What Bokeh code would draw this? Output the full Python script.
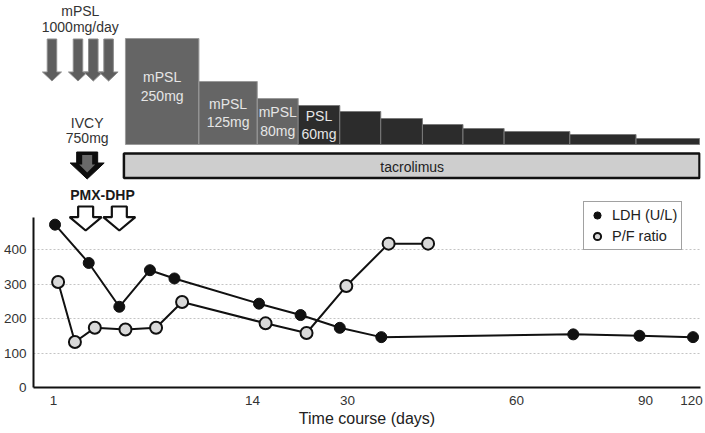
import numpy as np
from bokeh.plotting import figure
from bokeh.models import Range1d, FixedTicker, Legend, LegendItem
from bokeh.embed import file_html
from bokeh.resources import INLINE

# ---------------- data ----------------
tick_days = [1, 14, 30, 60, 90, 120]
tick_labels = ["1", "14", "30", "60", "90", "120"]

ldh_days = [1.1, 3.3, 5.3, 7.3, 8.9, 15.1, 22.1, 28.7, 36.0, 73.2, 88.6, 121.0]
ldh_vals = [472, 361, 234, 340, 316, 243, 210, 173, 146, 154, 150, 146]

pf_days = [1.3, 2.4, 3.7, 5.7, 7.7, 9.4, 16.2, 23.1, 29.8, 37.3, 44.3]
pf_vals = [306, 132, 173, 168, 173, 248, 186, 158, 294, 417, 417]

mpsl_pulse_days = [0.9, 2.6, 3.6, 4.6]
ivcy_day = 3.2
pmx_days = [3.1, 5.3]

steroid_start_days = [5.7, 10.5, 14.8, 21.7, 28.7, 35.9, 43.3, 50.5, 57.8, 72.4, 87.8]
steroid_drug = ["mPSL", "mPSL", "mPSL", "PSL", "PSL", "PSL", "PSL", "PSL", "PSL", "PSL", "PSL"]
steroid_step = [106, 63, 46, 39, 33, 26, 20, 16, 13, 10, 6]   # drawn step heights
steroid_labels = ["mPSL\n250mg", "mPSL\n125mg", "mPSL\n80mg", "PSL\n60mg",
                  "", "", "", "", "", "", ""]
tacrolimus_start_day = 5.6

# ---------------- scale (non-linear time axis) ----------------
AXIS_X = [20, 219, 314, 483, 612, 658]   # axis positions of the tick days
X_END = 667


def tx(days):
    d = np.atleast_1d(np.asarray(days, dtype=float))
    x = np.interp(d, tick_days, AXIS_X)
    lo = d < tick_days[0]
    x[lo] = AXIS_X[0] + (d[lo] - tick_days[0]) * (AXIS_X[1] - AXIS_X[0]) / (tick_days[1] - tick_days[0])
    hi = d > tick_days[-1]
    x[hi] = AXIS_X[-1] + (d[hi] - tick_days[-1]) * (AXIS_X[-1] - AXIS_X[-2]) / (tick_days[-1] - tick_days[-2])
    return x


FONT = "Liberation Sans"
FRAME_H = 387
PX_PER_UNIT = 0.345

p = figure(width=705, height=433, x_range=Range1d(0, X_END),
           y_range=Range1d(0, FRAME_H / PX_PER_UNIT),
           output_backend="svg", toolbar_location=None,
           min_border_left=33, min_border_right=5, min_border_top=0, min_border_bottom=433 - FRAME_H)
p.extra_y_ranges = {"d": Range1d(start=FRAME_H, end=0)}
p.outline_line_color = None
p.background_fill_color = "white"
p.border_fill_color = "white"

# axes
p.xaxis.ticker = FixedTicker(ticks=[int(v) for v in tx(tick_days)])
p.xaxis.major_label_overrides = {int(v): lab for v, lab in zip(tx(tick_days), tick_labels)}
p.yaxis.ticker = FixedTicker(ticks=[0, 100, 200, 300, 400])
p.yaxis.bounds = (0, 493)
for ax in (p.xaxis, p.yaxis):
    ax.axis_line_width = 2
    ax.axis_line_color = "#111111"
    ax.major_tick_line_color = None
    ax.minor_tick_line_color = None
    ax.major_tick_out = 0
    ax.major_tick_in = 0
    ax.major_label_text_font = FONT
    ax.major_label_text_font_size = "13.5px"
    ax.major_label_text_color = "#333333"
p.xaxis.major_label_standoff = 8
p.yaxis.major_label_standoff = 7
p.xaxis.axis_label = "Time course (days)"
p.xaxis.axis_label_text_font = FONT
p.xaxis.axis_label_text_font_size = "16px"
p.xaxis.axis_label_text_font_style = "normal"
p.xaxis.axis_label_text_color = "#222222"
p.xaxis.axis_label_standoff = 2

p.xgrid.visible = False
p.ygrid.grid_line_color = "#c4c4c4"
p.ygrid.grid_line_dash = "2 2"
p.ygrid.grid_line_width = 1


def down_arrow(cx, top, head_y, tip, shaft_hw, head_hw):
    xs = [cx - shaft_hw, cx + shaft_hw, cx + shaft_hw, cx + head_hw, cx, cx - head_hw, cx - shaft_hw]
    ys = [top, top, head_y, head_y, tip, head_y, head_y]
    return xs, ys


# ---------------- treatment diagram ----------------
BASE = 144
starts = tx(steroid_start_days)
rights = list(starts[1:]) + [X_END - 1]
tops = [BASE - h for h in steroid_step]
fills = ["#656565" if d == "mPSL" else "#2c2c2c" for d in steroid_drug]
edges = ["#9a9a9a" if d == "mPSL" else "#7a7a7a" for d in steroid_drug]
p.quad(left=starts, right=rights, top=tops, bottom=[BASE] * len(tops),
       fill_color=fills, line_color=edges, line_width=1, y_range_name="d")
label_x = [(a + b) / 2 for a, b in zip(starts, rights)]
label_y = [t + min(h / 2, 48) for t, h in zip(tops, steroid_step)]
p.text(x=label_x, y=label_y, text=steroid_labels, text_align="center", text_baseline="middle",
       text_color="#e6e6e6", text_font_size="14px", text_line_height=1.15,
       text_font={"value": FONT}, y_range_name="d")

# tacrolimus bar
tac_left = float(tx(tacrolimus_start_day)[0])
p.quad(left=[tac_left], right=[X_END - 1], top=[153], bottom=[177.5], fill_color="#cecece",
       line_color="#111111", line_width=2.5, y_range_name="d")
p.text(x=[(tac_left + X_END) / 2], y=[166], text=["tacrolimus"], text_align="center",
       text_baseline="middle", text_color="#222222", text_font_size="14px",
       text_font={"value": FONT}, y_range_name="d")

# mPSL pulse arrows
px = tx(mpsl_pulse_days)
axs, ays = [], []
for cx in px:
    a, b = down_arrow(cx, 38.5, 71.5, 80.5, 4.75, 9.5)
    axs.append(a)
    ays.append(b)
p.patches(axs, ays, fill_color="#5e5e5e", line_color="#8c8c8c", line_width=1, y_range_name="d")
mid_pulse = (px[0] + px[-1]) / 2
p.text(x=[mid_pulse, mid_pulse], y=[10, 26], text=["mPSL", "1000mg/day"], text_align="center",
       text_baseline="middle", text_color="#333333", text_font_size="14px",
       text_font={"value": FONT}, y_range_name="d")

# IVCY arrow
ix = float(tx(ivcy_day)[0])
a, b = down_arrow(ix, 151.5, 162.5, 178.5, 10.5, 17)
p.patch(a, b, fill_color="#0d0d0d", line_color="#0d0d0d", line_width=1, y_range_name="d")
a, b = down_arrow(ix, 154.5, 164, 172, 5, 8)
p.patch(a, b, fill_color="#6a6a6a", line_color=None, y_range_name="d")
p.text(x=[ix, ix], y=[122, 137], text=["IVCY", "750mg"], text_align="center",
       text_baseline="middle", text_color="#333333", text_font_size="14px",
       text_font={"value": FONT}, y_range_name="d")

# PMX-DHP arrows
mx = tx(pmx_days)
bxs, bys = [], []
for cx in mx:
    a, b = down_arrow(cx, 206, 216.7, 230, 7.5, 16)
    bxs.append(a)
    bys.append(b)
p.patches(bxs, bys, fill_color="white", line_color="#111111", line_width=2.2, y_range_name="d")
p.text(x=[float(np.mean(mx))], y=[194.5], text=["PMX-DHP"], text_align="center",
       text_baseline="middle", text_color="#1a1a1a", text_font_size="14px",
       text_font_style="bold", text_font={"value": FONT}, y_range_name="d")

# ---------------- chart ----------------
p.line(tx(pf_days), pf_vals, line_color="#111111", line_width=2)
p.line(tx(ldh_days), ldh_vals, line_color="#111111", line_width=2)
r_ldh = p.scatter(tx(ldh_days), ldh_vals, size=11, fill_color="#111111", line_color="#111111",
                  line_width=1)
r_pf = p.scatter(tx(pf_days), pf_vals, size=12, fill_color="#d9d9d9", line_color="#111111",
                 line_width=2)

legend = Legend(items=[LegendItem(label="LDH (U/L)", renderers=[r_ldh]),
                       LegendItem(label="P/F ratio", renderers=[r_pf])],
                location=(550, 137), margin=0, padding=4, spacing=3,
                glyph_height=18, glyph_width=18, label_height=18, label_standoff=6,
                label_text_font=FONT, label_text_font_size="14.5px", label_text_color="#222222",
                border_line_color="#444444", border_line_width=1, background_fill_color="white",
                background_fill_alpha=1)
p.add_layout(legend)

open("out.html", "w").write(file_html(p, INLINE))
